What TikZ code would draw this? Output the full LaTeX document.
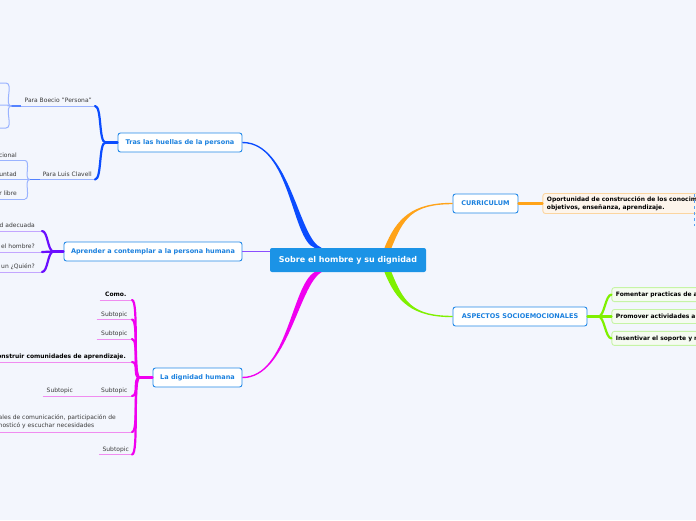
\documentclass[tikz,border=0pt]{standalone}
\usepackage{fontspec}
\setmainfont{DejaVu Sans}
\usetikzlibrary{positioning}
\definecolor{bg}{HTML}{F3F6FD}
\definecolor{rootblue}{HTML}{1B93E6}
\definecolor{topicblue}{HTML}{2389E8}
\definecolor{topictext}{HTML}{1A80DE}
\definecolor{blueM}{HTML}{0B4CFF}
\definecolor{blueL}{HTML}{9AB3FF}
\definecolor{purpleM}{HTML}{6A0DFF}
\definecolor{purpleT}{HTML}{8A4DFF}
\definecolor{purpleL}{HTML}{C3A6FF}
\definecolor{magM}{HTML}{F000F0}
\definecolor{magL}{HTML}{F08CF0}
\definecolor{orangeM}{HTML}{FFA319}
\definecolor{orangeL}{HTML}{FBD5A0}
\definecolor{orangeF}{HTML}{FDF5EC}
\definecolor{greenM}{HTML}{7FF000}
\definecolor{greenL}{HTML}{C6F4A6}
\definecolor{greenF}{HTML}{F5FBF1}
\definecolor{subgray}{HTML}{3A3A3A}
\definecolor{blueD}{HTML}{5AA0F0}
\tikzset{
  root/.style={fill=rootblue, text=white, font=\bfseries\fontsize{8}{9}\selectfont, rounded corners=2pt, minimum width=156, minimum height=24, inner sep=0pt},
  topic/.style={draw=topicblue, fill=white, text=topictext, font=\bfseries\fontsize{6.5}{7}\selectfont, rounded corners=2.5pt, line width=0.9pt, minimum height=19, inner xsep=0pt},
  ul/.style={append after command={(\tikzlastnode.south west) edge[draw=#1, line width=1pt] (\tikzlastnode.south east)}},
  sub/.style={anchor=south east, text=subgray, font=\fontsize{6}{8}\selectfont, inner xsep=3pt, inner ysep=1.8pt, text height=4.3pt, text depth=1.3pt},
  bsub/.style={sub, text=black, font=\bfseries\fontsize{6}{8}\selectfont},
  note/.style={anchor=south east, text=subgray, font=\fontsize{6}{8}\selectfont, align=left, inner xsep=16pt, inner ysep=2.6pt},
  obox/.style={draw=orangeL, fill=orangeF, rounded corners=2.5pt, line width=0.9pt, minimum height=20, text width=200, align=left, inner xsep=4pt, inner ysep=2pt, font=\bfseries\fontsize{6}{8}\selectfont},
  gbox/.style={draw=greenL, fill=greenF, rounded corners=2.5pt, line width=0.9pt, minimum height=14, text width=150, align=left, inner xsep=4pt, inner ysep=0pt, font=\bfseries\fontsize{6}{7}\selectfont},
  bthick/.style={draw=#1, line width=2.2pt, line cap=round},
  bthin/.style={draw=#1, line width=1pt}
}
\begin{document}
\begin{tikzpicture}[x=1pt, y=-1pt]
  \useasboundingbox (0,0) rectangle (696,520);
  \fill[bg] (0,0) rectangle (696,520);
  \clip (0,0) rectangle (696,520);

  % central topic and main topics
  \node[root] (root) at (348,260) {Sobre el hombre y su dignidad};
  \node[topic, minimum width=124] (tras) at (180,142.5) {Tras las huellas de la persona};
  \node[topic, minimum width=178] (apr) at (153,251.5) {Aprender a contemplar a la persona humana};
  \node[topic, minimum width=89] (dig) at (197.5,377.5) {La dignidad humana};
  \node[topic, minimum width=65] (cur) at (485.5,203.5) {CURRICULUM};
  \node[topic, minimum width=134] (asp) at (520,316.5) {ASPECTOS SOCIOEMOCIONALES};

  % main links
  \coordinate (rB) at ([xshift=-30]root.north);
  \coordinate (rM) at ([xshift=-30]root.south);
  \coordinate (rO) at ([xshift=40]root.north);
  \coordinate (rG) at ([xshift=40]root.south);
  \fill[blueM] ([yshift=0.7]tras.east) .. controls +(48,0) and +(-23,-8) .. ([xshift=3.5]rB)
    -- ([xshift=-3.5]rB) .. controls +(-23,-8) and +(48,0) .. ([yshift=-0.7]tras.east) -- cycle;
  \fill[magM] ([yshift=0.7]dig.east) .. controls +(45,0) and +(-23,13) .. ([xshift=-3.5]rM)
    -- ([xshift=3.5]rM) .. controls +(-23,13) and +(45,0) .. ([yshift=-0.7]dig.east) -- cycle;
  \fill[orangeM] ([yshift=0.7]cur.west) .. controls +(-40,0) and +(12,-30) .. ([xshift=-3.5]rO)
    -- ([xshift=3.5]rO) .. controls +(12,-30) and +(-40,0) .. ([yshift=-0.7]cur.west) -- cycle;
  \fill[greenM] ([yshift=0.7]asp.west) .. controls +(-40,0) and +(12,30) .. ([xshift=3.5]rG)
    -- ([xshift=-3.5]rG) .. controls +(12,30) and +(-40,0) .. ([yshift=-0.7]asp.west) -- cycle;
  \draw[purpleT, line width=1.3pt] (apr.east) -- (apr.east -| root.west);

  % Tras las huellas de la persona
  \coordinate (tH) at ([xshift=-12]tras.west);
  \node[sub, ul=blueL, minimum width=68] (boe) at (95,106) {Para Boecio "Persona"};
  \node[sub, ul=blueL, minimum width=52] (cla) at (95,179.5) {Para Luis Clavell};
  \draw[bthick=blueM] (tras.west) -- (tH);
  \draw[bthick=blueM] (tH) .. controls +(-7,0) and +(7,0) .. (boe.south east);
  \draw[bthick=blueM] (tH) .. controls +(-7,0) and +(7,0) .. (cla.south east);

  \coordinate (bH) at ([xshift=-10]boe.south west);
  \coordinate (bk1) at (6,83);
  \coordinate (bk2) at (5,105);
  \coordinate (bk3) at (6,128);
  \draw[blueM!70, line width=1.6pt] (boe.south west) -- (bH);
  \foreach \k in {bk1,bk2,bk3}
    \draw[bthin=blueL] (bH) .. controls +(-8,0) and +(8,0) .. (\k) -- +(-15,0);

  \coordinate (cH) at ([xshift=-10]cla.south west);
  \node[sub, ul=blueL, inner xsep=8pt] (cl1) at (25,160.5) {cional};
  \node[sub, ul=blueL, inner xsep=8pt] (cl2) at (25,179.5) {untad};
  \node[sub, ul=blueL, inner xsep=8pt] (cl3) at (25,199) {r libre};
  \draw[blueM!70, line width=1.6pt] (cla.south west) -- (cH);
  \foreach \k in {cl1,cl2,cl3}
    \draw[bthin=blueL] (cH) .. controls +(-6,0) and +(6,0) .. (\k.south east);

  % Aprender a contemplar a la persona humana
  \coordinate (pH) at ([xshift=-10]apr.west);
  \node[sub, ul=purpleL, inner xsep=7pt] (ap1) at (42,231) {d adecuada};
  \node[sub, ul=purpleL, inner xsep=7pt] (ap2) at (42,252) {el hombre?};
  \node[sub, ul=purpleL, inner xsep=7pt] (ap3) at (42,272) {un ¿Quién?};
  \draw[bthick=purpleM] (apr.west) -- (pH);
  \foreach \k in {ap1,ap2,ap3}
    \draw[bthick=purpleM] (pH) .. controls +(-6,0) and +(6,0) .. (\k.south east);

  % La dignidad humana
  \coordinate (mH) at ([xshift=-13]dig.west);
  \node[bsub, ul=magL, minimum width=32] (c1) at (132,300) {Como.};
  \node[sub, ul=magL, minimum width=35] (c2) at (132,319.5) {Subtopic};
  \node[sub, ul=magL, minimum width=35] (c3) at (132,339) {Subtopic};
  \node[bsub, ul=magL, inner xsep=6pt] (c4) at (132,362) {onstruir comunidades de aprendizaje.};
  \node[sub, ul=magL, minimum width=35] (c5) at (132,396) {Subtopic};
  \node[sub, ul=magL, minimum width=34] (c5a) at (77,396) {Subtopic};
  \node[note, ul=magL] (c6) at (132,432) {ales de comunicación, participación de\\nosticó y escuchar necesidades};
  \node[sub, ul=magL, minimum width=32] (c7) at (132,454.5) {Subtopic};
  \draw[bthick=magM] (dig.west) -- (mH);
  \foreach \k in {c1,c2,c3,c4,c5,c6,c7}
    \draw[bthick=magM] (mH) .. controls +(-7,0) and +(7,0) .. (\k.south east);
  \draw[bthin=magL] (c5.south west) -- (c5a.south east);

  % CURRICULUM
  \node[obox, right=24pt of cur] (opp) {Oportunidad de construcción de los conocim\\objetivos, enseñanza, aprendizaje.};
  \draw[bthick=orangeM] (cur.east) -- (opp.west);
  \coordinate (d1) at (694.5,194);
  \coordinate (d2) at (694.5,226);
  \draw[blueD, dashed, line width=0.8pt] (d1) -- (d2);

  % ASPECTOS SOCIOEMOCIONALES
  \node[gbox, right=24pt of asp] (pro) {Promover actividades ar};
  \node[gbox, above=7pt of pro] (fom) {Fomentar practicas de a};
  \node[gbox, below=7pt of pro] (ins) {Insentivar el soporte y r};
  \coordinate (gH) at ([xshift=11]asp.east);
  \draw[bthick=greenM] (asp.east) -- (gH);
  \foreach \k in {fom,pro,ins}
    \draw[bthick=greenM] (gH) .. controls +(6,0) and +(-6,0) .. (\k.west);
\end{tikzpicture}
\end{document}
